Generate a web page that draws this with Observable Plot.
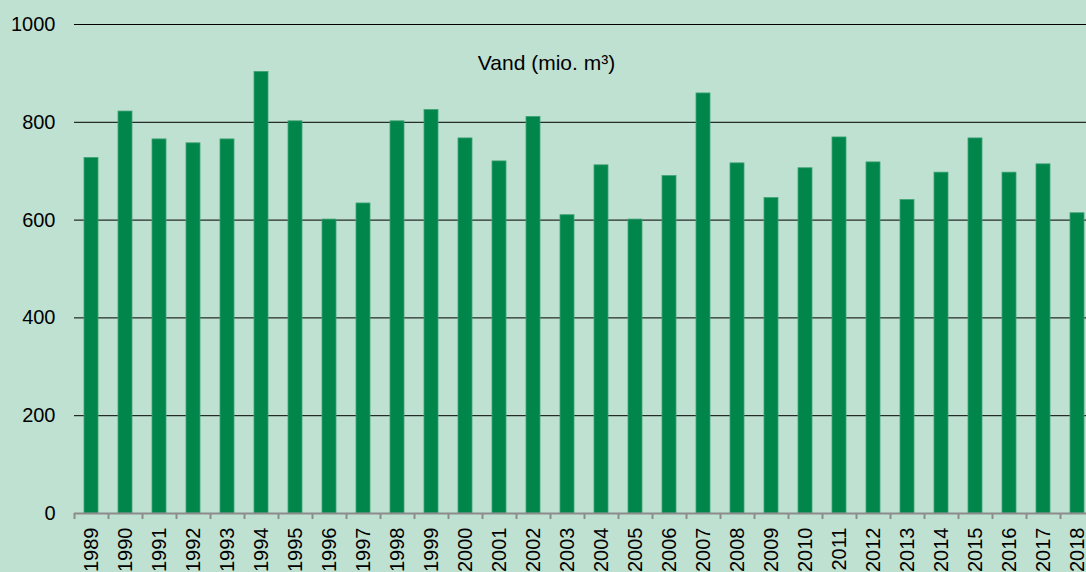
<!DOCTYPE html>
<html>
<head>
<meta charset="utf-8">
<script src="https://cdn.jsdelivr.net/npm/d3@7"></script>
<script src="https://cdn.jsdelivr.net/npm/@observablehq/plot@0.6"></script>
<style>
  html, body { margin: 0; padding: 0; background: #bfe1d2; }
  #chart svg { display: block; }
</style>
</head>
<body>
<div id="chart"></div>
<script>
const years = ["1989","1990","1991","1992","1993","1994","1995","1996","1997","1998",
               "1999","2000","2001","2002","2003","2004","2005","2006","2007","2008",
               "2009","2010","2011","2012","2013","2014","2015","2016","2017","2018"];
const vand = [727, 822, 765, 757, 765, 903, 802, 601, 634, 802,
              825, 767, 720, 811, 610, 712, 601, 690, 859, 716,
              645, 706, 769, 718, 641, 697, 767, 697, 714, 614];
const yTicks = [0, 200, 400, 600, 800, 1000];
const title = "Vand (mio. m³)";

const data = years.map((year, i) => ({year, value: vand[i]}));

const chart = Plot.plot({
  width: 1086,
  height: 572,
  marginLeft: 74,
  marginRight: 0,
  marginTop: 24,
  marginBottom: 59,
  style: {
    background: "#bfe1d2",
    fontFamily: "'Liberation Sans', Arial, sans-serif",
    fontSize: "20px",
    color: "#000"
  },
  x: {domain: years, range: [74, 1094], paddingInner: 0.6, paddingOuter: 0.3},
  y: {domain: [0, 1000], range: [513, 24]},
  marks: [
    Plot.ruleY(yTicks.filter(d => d > 0), {stroke: "#000", strokeWidth: 1}),
    Plot.barY(data, {x: "year", y: "value", fill: "#00854a", stroke: "#3da273", strokeWidth: 0.8}),
    Plot.ruleY([0], {stroke: "#8c8c8c", strokeWidth: 2}),
    Plot.axisY({ticks: yTicks, tickFormat: d => String(d), tickSize: 0, tickPadding: 19, fontSize: 20, label: null}),
    Plot.axisX({tickSize: 6, tickFormat: () => "", dx: -17, stroke: "#8c8c8c", strokeWidth: 2, label: null}),
    Plot.axisX({tickSize: 0, tickPadding: 14, tickRotate: -90, fontSize: 20, label: null}),
    Plot.text([title], {frameAnchor: "top", dx: -34, dy: 39, lineAnchor: "middle", fontSize: 21, fill: "#000"})
  ]
});
document.getElementById("chart").append(chart);
</script>
</body>
</html>
